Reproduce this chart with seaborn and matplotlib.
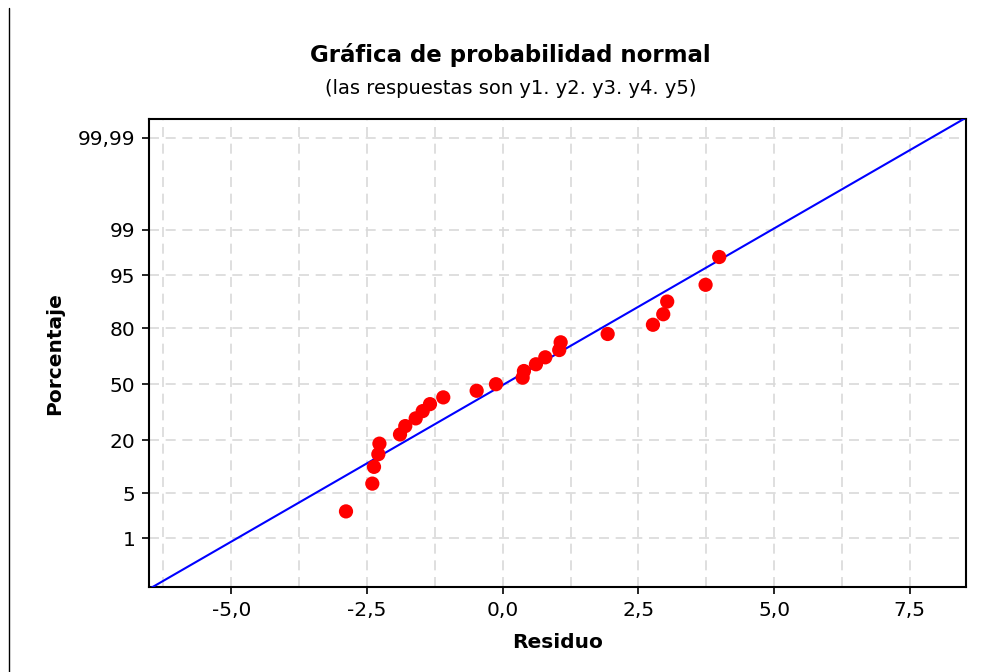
import numpy as np
import pandas as pd
import matplotlib
matplotlib.use('Agg')
import matplotlib.pyplot as plt
import seaborn as sns
from matplotlib.lines import Line2D
from matplotlib.ticker import MultipleLocator
from statistics import NormalDist

# Residuals (sorted)
residuo = [-2.886, -2.401, -2.370, -2.29, -2.27, -1.891, -1.794, -1.602, -1.473,
           -1.339, -1.094, -0.479, -0.123, 0.368, 0.392, 0.613, 0.785, 1.042,
           1.068, 1.934, 2.768, 2.958, 3.031, 3.738, 3.989]
pct_ticks = [1, 5, 20, 50, 80, 95, 99, 99.99]
pct_labels = ['1', '5', '20', '50', '80', '95', '99', '99,99']
x_ticks = [-5.0, -2.5, 0.0, 2.5, 5.0, 7.5]
x_labels = ['-5,0', '-2,5', '0,0', '2,5', '5,0', '7,5']

nd = NormalDist()
n = len(residuo)
# median ranks, as Minitab does
df = pd.DataFrame({'Residuo': np.sort(residuo)})
df['z'] = [nd.inv_cdf((i - 0.3) / (n + 0.4)) for i in range(1, n + 1)]

mu = np.mean(residuo)
sigma = np.std(residuo, ddof=1)

sns.set_style('white')
plt.rcParams['font.family'] = ['DejaVu Sans']
plt.rcParams['text.color'] = 'black'
plt.rcParams['axes.labelcolor'] = 'black'
plt.rcParams['xtick.color'] = 'black'
plt.rcParams['ytick.color'] = 'black'

fig = plt.figure(figsize=(9.99, 6.72), dpi=100)
ax = fig.add_axes([0.1494, 0.1260, 0.8173, 0.6965])

xlim = (-6.51, 8.53)
ylim = (-3.063, 3.995)

# fitted normal line
xl = np.array(xlim)
fit = pd.DataFrame({'x': xl, 'z': (xl - mu) / sigma})
sns.lineplot(data=fit, x='x', y='z', color='#0000ff', lw=1.5, ax=ax, zorder=3)
sns.scatterplot(data=df, x='Residuo', y='z', color='#ff0000', s=105,
                edgecolor='none', ax=ax, zorder=4)

ax.set_xlim(*xlim)
ax.set_ylim(*ylim)

ax.set_yticks([nd.inv_cdf(p / 100) for p in pct_ticks])
ax.set_yticklabels(pct_labels)
ax.set_xticks(x_ticks)
ax.set_xticklabels(x_labels)
ax.xaxis.set_minor_locator(MultipleLocator(1.25))

ax.grid(True, which='both', axis='x', color='#d9d9d9', ls=(0, (6, 4)), lw=1.2)
ax.grid(True, which='major', axis='y', color='#d9d9d9', ls=(0, (6, 4)), lw=1.2)
ax.set_axisbelow(True)

ax.tick_params(axis='both', which='major', direction='out', length=5, width=1.2,
               color='black', labelsize=14.5, pad=5, left=True, bottom=True)
ax.tick_params(axis='both', which='minor', length=0)
for s in ax.spines.values():
    s.set_color('black')
    s.set_linewidth(1.5)

ax.set_xlabel('Residuo', fontsize=14.5, fontweight='bold', labelpad=9)
ax.set_ylabel('Porcentaje', fontsize=14.5, fontweight='bold', labelpad=10)

fig.text(0.511, 0.918, 'Gráfica de probabilidad normal', ha='center', va='center',
         fontsize=16.5, fontweight='bold')
fig.text(0.511, 0.869, '(las respuestas son y1. y2. y3. y4. y5)', ha='center',
         va='center', fontsize=14)

# left border of the screenshot
fig.add_artist(Line2D([0.0095, 0.0095], [0, 0.988], color='black', lw=1,
                      transform=fig.transFigure))

fig.savefig('out.png', dpi=100)
